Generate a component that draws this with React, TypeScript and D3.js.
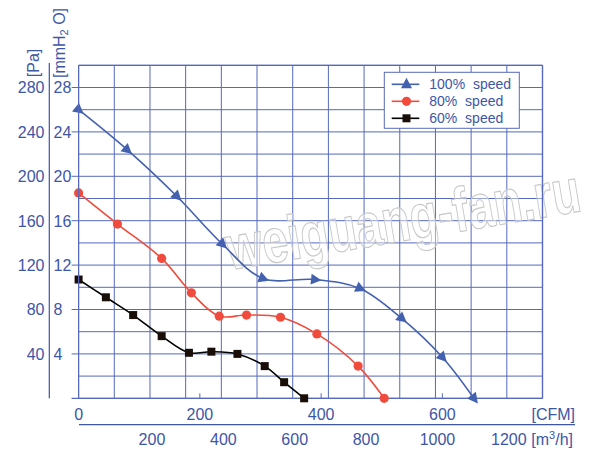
import React from 'react';
import * as d3 from 'd3';

// ---- data (CFM, Pa) ----
const cfm100 = [0, 80, 162, 237, 304, 390, 464, 533, 600, 652];
const pa100 = [260, 224, 182, 139, 108, 107, 99, 72, 37, 0];
const cfm80 = [0, 64, 137, 186, 232, 277, 333, 393, 461, 504];
const pa80 = [185, 157, 126, 95, 74, 75, 73, 58, 29, 0];
const cfm60 = [0, 45, 90, 137, 182, 219, 262, 307, 339, 372];
const pa60 = [107, 91, 75, 56, 41, 42, 40, 29, 14.5, 0];

const paTicks = [40, 80, 120, 160, 200, 240, 280];
const mmTicks = [4, 8, 12, 16, 20, 24, 28];
const cfmTicks = [0, 200, 400, 600];
const m3hTicks = [200, 400, 600, 800, 1000, 1200];
const legendLabels = ['100%  speed', '80%  speed', '60%  speed'];

const CFM_TO_M3H = 1.699;

const BLUE_TXT = '#3d56a6';
const GRID = '#5669bd';
const C100 = '#4461b0';
const C80 = '#f04b3c';
const C60 = '#000000';
const FONT = '"Liberation Sans", Arial, Helvetica, sans-serif';

export default function App() {
  const left = 78.6, right = 542.5, top = 65.3, bottom = 398.3;
  const xM = d3.scaleLinear().domain([0, 1300]).range([left, right]);
  const xC = (c: number) => xM(c * CFM_TO_M3H);
  const y = d3.scaleLinear().domain([0, 300]).range([bottom, top]);

  const line = d3
    .line<[number, number]>()
    .x((d) => xC(d[0]))
    .y((d) => y(d[1]))
    .curve(d3.curveCatmullRom.alpha(0.5));

  const series = [
    { cfm: cfm100, pa: pa100, color: C100, marker: 'tri' },
    { cfm: cfm80, pa: pa80, color: C80, marker: 'circle' },
    { cfm: cfm60, pa: pa60, color: C60, marker: 'square' },
  ];

  const vGrid = d3.range(0, 1301, 100);
  const hGrid = d3.range(0, 301, 20);

  const marker = (type: string, cx: number, cy: number, color: string, angle = -90, key?: any) => {
    if (type === 'tri') {
      return (
        <path
          key={key}
          d="M6.5,0 L-4,-5.5 L-4,5.5 Z"
          fill={color}
          transform={`translate(${cx},${cy}) rotate(${angle})`}
        />
      );
    }
    if (type === 'circle') {
      return <circle key={key} cx={cx} cy={cy} r={4.6} fill={color} />;
    }
    return <rect key={key} x={cx - 4} y={cy - 4} width={8} height={8} fill="#1a0e08" />;
  };

  return (
    <svg
      width={600}
      height={456}
      style={{ position: 'absolute', left: 0, top: 0, background: '#fff' }}
      fontFamily={FONT}
    >
      <rect x={0} y={0} width={600} height={456} fill="#fff" />
      {/* grid */}
      {vGrid.map((v) => (
        <line key={'v' + v} x1={xM(v)} x2={xM(v)} y1={top} y2={bottom} stroke={GRID} strokeWidth={1} />
      ))}
      {hGrid.map((v) => (
        <line key={'h' + v} x1={left} x2={right} y1={y(v)} y2={y(v)} stroke={GRID} strokeWidth={1} />
      ))}
      {/* left ticks */}
      {paTicks.map((v) => (
        <line key={'lt' + v} x1={left - 7} x2={left} y1={y(v)} y2={y(v)} stroke={GRID} strokeWidth={1} />
      ))}
      <line x1={left - 7} x2={right} y1={bottom} y2={bottom} stroke={GRID} strokeWidth={1.2} />
      {/* CFM ticks inside */}
      {cfmTicks.slice(1).map((v) => (
        <line key={'ct' + v} x1={xC(v)} x2={xC(v)} y1={bottom} y2={bottom - 5} stroke={GRID} strokeWidth={1} />
      ))}

      {/* watermark */}
      <g transform="translate(230,270) rotate(-9.5) scale(1,1.3)">
        <text
          x={0}
          y={0}
          fontSize={48}
          fontWeight="bold"
          fill="#ffffff"
          fillOpacity={0.4}
          stroke="#c8c8c8"
          strokeWidth={0.9}
          textLength={358}
          lengthAdjust="spacingAndGlyphs"
        >
          weiguang-fan.ru
        </text>
      </g>

      {/* curves */}
      {series.map((s, i) => {
        const pts: [number, number][] = s.cfm.map((c, j) => [c, s.pa[j]]);
        return (
          <g key={'s' + i}>
            <path d={line(pts) || ''} fill="none" stroke={s.color} strokeWidth={1.6} />
            {pts.map((p, j) => {
              const a = pts[Math.max(0, j - 1)];
              const b = pts[Math.min(pts.length - 1, j + 1)];
              const ang = (Math.atan2(y(b[1]) - y(a[1]), xC(b[0]) - xC(a[0])) * 180) / Math.PI;
              return marker(s.marker, xC(p[0]), y(p[1]), s.color, ang, j);
            })}
          </g>
        );
      })}

      {/* plot border top/right/left */}
      <line x1={left} x2={right} y1={top} y2={top} stroke={GRID} strokeWidth={1.2} />
      <line x1={right} x2={right} y1={top} y2={bottom} stroke={GRID} strokeWidth={1.4} />
      <line x1={left} x2={left} y1={top} y2={bottom} stroke={GRID} strokeWidth={1.2} />

      {/* legend */}
      <rect x={384.3} y={72.3} width={135} height={56} fill="#fff" stroke={GRID} strokeWidth={1} />
      {series.map((s, i) => {
        const ry = 84.3 + i * 17;
        return (
          <g key={'lg' + i}>
            <line x1={391.7} x2={419.3} y1={ry} y2={ry} stroke={s.color} strokeWidth={1.6} />
            {marker(s.marker, 406.5, ry, s.color, -90)}
            <text x={429.3} y={ry + 5} fontSize={14} fill={BLUE_TXT} style={{ whiteSpace: 'pre' }}>
              {legendLabels[i]}
            </text>
          </g>
        );
      })}

      {/* Y axis labels */}
      <line x1={49.3} x2={49.3} y1={63} y2={bottom} stroke={BLUE_TXT} strokeWidth={1.2} />
      {paTicks.map((v) => (
        <text key={'pa' + v} x={44.5} y={y(v) + 5.8} fontSize={16} fill={BLUE_TXT} textAnchor="end">
          {v}
        </text>
      ))}
      {mmTicks.map((v) => (
        <text key={'mm' + v} x={53.5} y={y(v * 10) + 5.8} fontSize={16} fill={BLUE_TXT}>
          {v}
        </text>
      ))}
      <text transform="translate(38.8,63) rotate(-90)" fontSize={16} fill={BLUE_TXT} textAnchor="middle">
        [Pa]
      </text>
      <text transform="translate(65,43) rotate(-90)" fontSize={16} fill={BLUE_TXT} textAnchor="middle">
        [mmH<tspan fontSize={11} dy={3}>2</tspan>
        <tspan dy={-3}> O]</tspan>
      </text>

      {/* X axis labels */}
      {cfmTicks.map((v) => (
        <text key={'cf' + v} x={xC(v)} y={419.5} fontSize={16} fill={BLUE_TXT} textAnchor="middle">
          {v}
        </text>
      ))}
      <text x={575} y={419.5} fontSize={16} fill={BLUE_TXT} textAnchor="end">
        [CFM]
      </text>
      <line x1={79} x2={575} y1={424.7} y2={424.7} stroke={BLUE_TXT} strokeWidth={1.3} />
      {m3hTicks.map((v) => (
        <text key={'m3' + v} x={xM(v) + 2} y={444.5} fontSize={16} fill={BLUE_TXT} textAnchor="middle">
          {v}
        </text>
      ))}
      <text x={573} y={444.5} fontSize={16} fill={BLUE_TXT} textAnchor="end">
        [m<tspan fontSize={11} dy={-6}>3</tspan>
        <tspan dy={6}>/h]</tspan>
      </text>
    </svg>
  );
}
